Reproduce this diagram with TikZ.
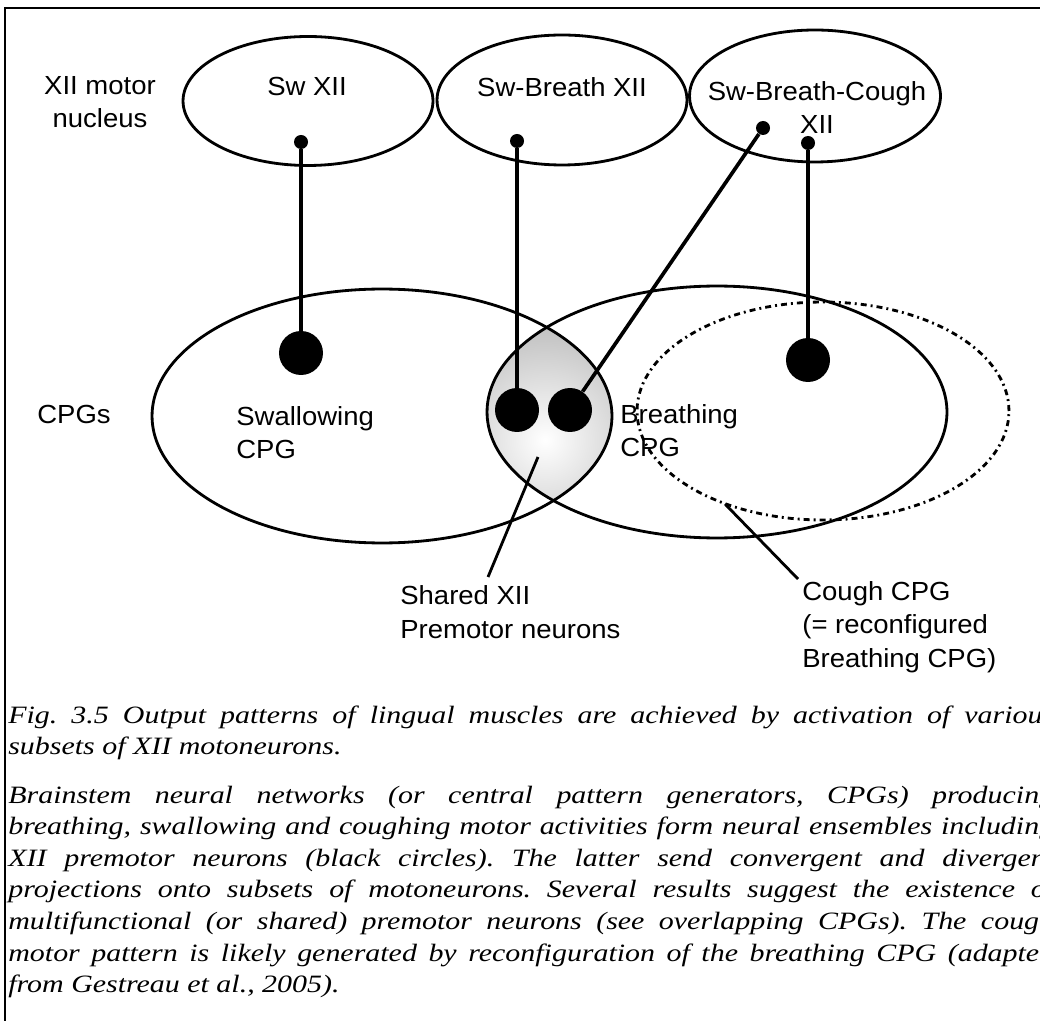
\documentclass[tikz,border=0pt]{standalone}
\usepackage{fontspec}
\usepackage{tikz}
\usetikzlibrary{shapes.geometric, positioning, calc}
\newfontfamily\lblfont[FakeStretch=1.05]{Liberation Sans}
\newfontfamily\capfont[FakeStretch=1.2]{Liberation Serif}
\tikzstyle{proj} = [line width=2.1pt]
\tikzstyle{pointer} = [line width=1.6pt]
\tikzstyle{pool} = [draw, ellipse, line width=1.6pt, inner sep=0pt]

\begin{document}
\begin{tikzpicture}[x=0.02cm, y=-0.02cm, every node/.style={font=\lblfont\fontsize{14.9}{19}\selectfont, inner sep=0pt},
  cell/.style={circle, fill=black, inner sep=0pt, minimum size=0.88cm},
  term/.style={circle, fill=black, inner sep=0pt, minimum size=0.28cm},
  caption/.style={anchor=base west, text width=20.92cm, align=justify, font=\capfont\itshape\fontsize{14.2}{18}\selectfont}]
\path[use as bounding box, clip] (0,0) rectangle (1040,1026);
\fill[white] (0,0) rectangle (1040,1026);

% shared premotor pool (overlap of the two CPGs)
\begin{scope}
\clip (382,416) ellipse [x radius=230, y radius=127];
\clip (717,412) ellipse [x radius=230, y radius=126];
\shade[inner color=white, outer color=gray!95] (545,440) circle (220);
\end{scope}

% XII motor nucleus
\node (swN) [pool, minimum width=5cm, minimum height=2.58cm] at (308,101) {};
\node (sbN) [pool, minimum width=5cm, minimum height=2.6cm] at (562,100) {};
\node (sbcN) [pool, minimum width=5.02cm, minimum height=2.64cm] at (815,96) {};

% CPGs
\node (swCPG) [pool, minimum width=9.2cm, minimum height=5.08cm] at (382,416) {};
\node (brCPG) [pool, minimum width=9.2cm, minimum height=5.04cm] at (717,412) {};

% labels
\node (nucLbl) [anchor=base, align=center] at (100,128) {XII motor\\nucleus};
\node (swLbl) [anchor=base] at (307,96) {Sw XII};
\node (sbLbl) [anchor=base] at (562,97) {Sw-Breath XII};
\node (sbcLbl) [anchor=base, align=center] at (817,134) {Sw-Breath-Cough\\XII};
\node (cpgLbl) [anchor=base] at (74,424) {CPGs};
\node (swCPGLbl) [anchor=base west, align=left] at (236,459) {Swallowing\\CPG};
\node (brCPGLbl) [anchor=base west, align=left] at (620,457) {Breathing\\CPG};
\node (shLbl) [anchor=base west, align=left] at (400,638) {Shared XII\\Premotor neurons};
\node (coLbl) [anchor=base west, align=left] at (802,667) {Cough CPG\\(= reconfigured\\Breathing CPG)};

% cough CPG (reconfigured breathing CPG)
\node (coCPG) [pool, dash pattern=on 3.4pt off 2.3pt on 1.1pt off 2.3pt, minimum width=7.44cm, minimum height=4.36cm] at (823,411) {};

% premotor neurons and terminals
\node (swT) [term] at (301,142) {};
\node (sbT) [term] at (517,141) {};
\node (sbcT1) [term] at (763,128) {};
\node (sbcT2) [term] at (808,143) {};
\node (swC) [cell] at (301,353) {};
\node (shC1) [cell] at (517,410) {};
\node (shC2) [cell] at (570,410) {};
\node (coC) [cell] at (808,360) {};

\draw [proj] (swT) -- (swC);
\draw [proj] (sbT) -- (shC1);
\draw [proj] (sbcT1) -- (shC2);
\draw [proj] (sbcT2) -- (coC);

% label pointers
\coordinate (shTip) at (538,457);
\coordinate (shFoot) at (488,577);
\coordinate (coTip) at (725,504);
\coordinate (coFoot) at (798,579);
\draw [pointer] (shFoot) -- (shTip);
\draw [pointer] (coFoot) -- (coTip);

% frame
\draw [line width=1.1pt] (1040,8) -- (5,8) -- (5,1021);

% caption
\node (capA) [caption] at (8,723) {\frenchspacing\tolerance=10000 Fig. 3.5 Output patterns of lingual muscles are achieved by activation of various\linebreak subsets of XII motoneurons.};
\node (capB) [caption] at (8,803) {\frenchspacing\tolerance=10000 Brainstem neural networks (or central pattern generators, CPGs) producing\linebreak breathing, swallowing and coughing motor activities form neural ensembles including\linebreak XII premotor neurons (black circles). The latter send convergent and divergent\linebreak projections onto subsets of motoneurons. Several results suggest the existence of\linebreak multifunctional (or shared) premotor neurons (see overlapping CPGs). The cough\linebreak motor pattern is likely generated by reconfiguration of the breathing CPG (adapted\linebreak from Gestreau et al., 2005).};
\end{tikzpicture}
\end{document}
